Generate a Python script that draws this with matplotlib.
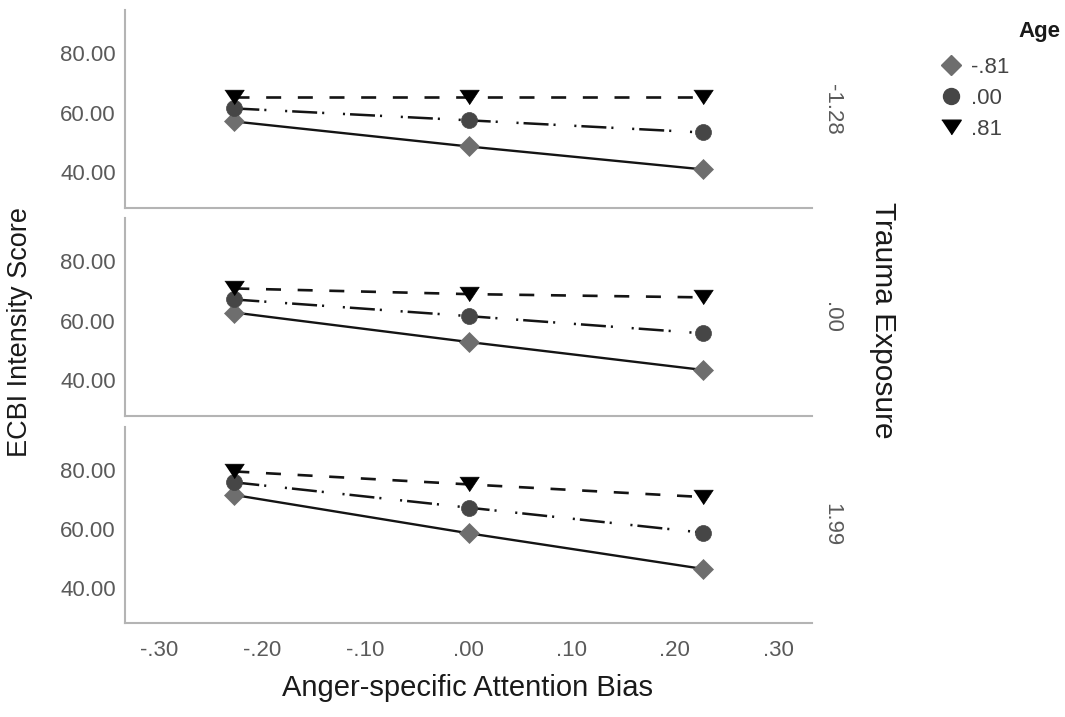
import matplotlib
matplotlib.use('Agg')
import matplotlib.pyplot as plt
from matplotlib.lines import Line2D

plt.rcParams['font.family'] = ['Liberation Sans', 'DejaVu Sans']
plt.rcParams['lines.scale_dashes'] = False

# ---------------- data ----------------
attention_bias = [-0.227, 0.0, 0.227]
trauma_labels = ['-1.28', '.00', '1.99']
age_labels = ['-.81', '.00', '.81']

x_ticks = [-0.30, -0.20, -0.10, 0.0, 0.10, 0.20, 0.30]
x_tick_labels = ['-.30', '-.20', '-.10', '.00', '.10', '.20', '.30']
y_ticks = [40, 60, 80]
y_tick_labels = ['40.00', '60.00', '80.00']

# Trauma = -1.28
trauma_low_age_low = [57.1, 48.7, 41.0]
trauma_low_age_mid = [61.5, 57.5, 53.4]
trauma_low_age_high = [65.4, 65.4, 65.4]
# Trauma = .00
trauma_mid_age_low = [62.8, 52.9, 43.5]
trauma_mid_age_mid = [67.2, 61.6, 55.8]
trauma_mid_age_high = [70.9, 69.0, 67.9]
# Trauma = 1.99
trauma_high_age_low = [71.5, 58.5, 46.4]
trauma_high_age_mid = [75.8, 67.2, 58.7]
trauma_high_age_high = [79.5, 75.1, 70.8]

panels = [
    [trauma_low_age_low, trauma_low_age_mid, trauma_low_age_high],
    [trauma_mid_age_low, trauma_mid_age_mid, trauma_mid_age_high],
    [trauma_high_age_low, trauma_high_age_mid, trauma_high_age_high],
]

# ---------------- styles ----------------
W, H = 1065, 717
tri_marker = [(-1, 0.75), (1, 0.75), (0, -0.75)]
series_styles = [
    dict(marker='D', ms=10, mfc='#6e6e6e', mec='#6e6e6e', ls='-', lw=1.7, dashes=None),
    dict(marker='o', ms=11.5, mfc='#464646', mec='#464646', ls='-', lw=1.8,
         dashes=(18, 3.6, 1.5, 13.5, 1.5, 3.6)),
    dict(marker=tri_marker, ms=14, mfc='#000000', mec='#000000', ls='-', lw=1.9,
         dashes=(10.8, 12)),
]

fig = plt.figure(figsize=(W / 100, H / 100), dpi=100)

left_px, right_px = 125, 812
panel_px = [(10, 208), (218, 416), (427, 623)]
spine_color = '#b4b4b4'
tick_color = '#5a5a5a'

axes = []
for i, (top, bot) in enumerate(panel_px):
    ax = fig.add_axes([left_px / W, 1 - bot / H, (right_px - left_px) / W, (bot - top) / H])
    axes.append(ax)
    for s, st in zip(panels[i], series_styles):
        line, = ax.plot(attention_bias, s, color='#141414', lw=st['lw'], ls=st['ls'],
                        marker=st['marker'], ms=st['ms'], mfc=st['mfc'], mec=st['mec'],
                        mew=0.5, solid_capstyle='butt', dash_capstyle='butt')
        if st['dashes'] is not None:
            line.set_dashes(st['dashes'])
    ax.set_xlim(-0.333, 0.333)
    ax.set_ylim(28.0, 94.6)
    ax.set_yticks(y_ticks)
    ax.set_yticklabels(y_tick_labels)
    ax.set_xticks(x_ticks)
    for sp in ['top', 'right']:
        ax.spines[sp].set_visible(False)
    for sp in ['left', 'bottom']:
        ax.spines[sp].set_color(spine_color)
        ax.spines[sp].set_linewidth(1.5)
    ax.tick_params(axis='both', length=0, labelsize=16, colors=tick_color)
    ax.tick_params(axis='y', pad=6.5)
    ax.tick_params(axis='x', pad=12)
    if i < 2:
        ax.set_xticklabels([])
    else:
        ax.set_xticklabels(x_tick_labels)
    ax.set_facecolor('none')
    cy = 1 - (top + bot) / 2 / H
    fig.text(832 / W, cy, trauma_labels[i], rotation=270, ha='center', va='center',
             fontsize=16, color=tick_color)

fig.text(883 / W, 1 - 320 / H, 'Trauma Exposure', rotation=270, ha='center', va='center',
         fontsize=21.5, color='#1a1a1a')
fig.text(20 / W, 1 - 332 / H, 'ECBI Intensity Score', rotation=90, ha='center', va='center',
         fontsize=19.5, color='#1a1a1a')
fig.text(468 / W, 1 - 688 / H, 'Anger-specific Attention Bias', ha='center', va='center',
         fontsize=21, color='#1a1a1a')

# legend
fig.text(1039 / W, 1 - 32 / H, 'Age', ha='center', va='center', fontsize=16,
         fontweight='bold', color='#1a1a1a')
handles = [Line2D([], [], ls='none', marker=st['marker'], ms=st['ms'], mfc=st['mfc'],
                  mec=st['mec']) for st in series_styles]
leg = fig.legend(handles, age_labels, loc='upper left', bbox_to_anchor=(940 / W, 1 - 57 / H),
                 frameon=False, fontsize=16, handlelength=1.0, handletextpad=0.4,
                 labelspacing=0.44, borderpad=0, borderaxespad=0, numpoints=1)
for t in leg.get_texts():
    t.set_color('#444444')

fig.savefig('out.png', dpi=100, facecolor='white')
